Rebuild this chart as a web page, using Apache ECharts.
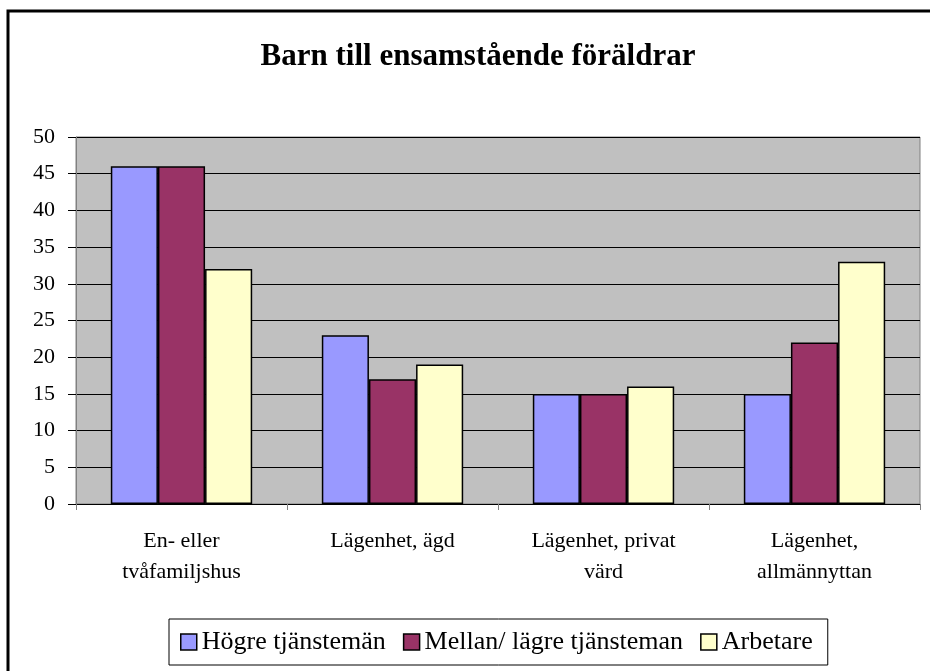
<!DOCTYPE html>
<html>
<head>
<meta charset="utf-8">
<script src="https://cdn.jsdelivr.net/npm/echarts@6/dist/echarts.min.js"></script>
<style>html,body{margin:0;padding:0;background:#fff;}#c{width:930px;height:671px;}</style>
</head>
<body>
<div id="c"></div>
<script>
const categories = ['En- eller\ntvåfamiljshus', 'Lägenhet, ägd', 'Lägenhet, privat\nvärd', 'Lägenhet,\nallmännyttan'];
const seriesNames = ['Högre tjänstemän', 'Mellan/ lägre tjänsteman', 'Arbetare'];
const hogre = [46, 23, 15, 15];
const mellan = [46, 17, 15, 22];
const arbetare = [32, 19, 16, 33];
const colors = ['#9999FF', '#993366', '#FFFFCC'];
const FONT = "'Liberation Serif', 'Times New Roman', serif";

const chart = echarts.init(document.getElementById('c'), null, {renderer: 'canvas'});
const values = [hogre, mellan, arbetare];
chart.setOption({
  animation: false,
  backgroundColor: '#fff',
  title: {
    text: 'Barn till ensamstående föräldrar',
    left: 473, top: 36, textAlign: 'center',
    textStyle: {fontFamily: FONT, fontWeight: 'bold', fontSize: 31, color: '#000'}
  },
  graphic: [{
    type: 'rect', shape: {x: 8, y: 11, width: 940, height: 700},
    style: {fill: 'none', stroke: '#000', lineWidth: 3}, silent: true
  }],
  grid: {left: 76, right: 10, top: 137, bottom: 167, show: true, backgroundColor: '#C0C0C0', borderColor: '#808080', borderWidth: 1},
  legend: {
    data: seriesNames,
    left: 169, top: 619,
    orient: 'horizontal',
    itemWidth: 16, itemHeight: 16, itemGap: 17,
    padding: [10, 15, 10, 11],
    borderColor: '#000', borderWidth: 1,
    icon: 'rect',
    itemStyle: {borderColor: '#000', borderWidth: 1.5},
    textStyle: {fontFamily: FONT, fontSize: 26, color: '#000'}
  },
  xAxis: {
    type: 'category',
    data: categories,
    axisLine: {show: true, lineStyle: {color: '#000', width: 1}},
    axisTick: {show: true, length: 6, lineStyle: {color: '#808080'}},
    axisLabel: {interval: 0, fontFamily: FONT, fontSize: 22, lineHeight: 31, color: '#000', margin: 22}
  },
  yAxis: {
    type: 'value', min: 0, max: 50, interval: 5,
    axisLine: {show: true, lineStyle: {color: '#808080'}},
    axisTick: {show: true, length: 8, lineStyle: {color: '#000'}},
    axisLabel: {fontFamily: FONT, fontSize: 22, color: '#000', margin: 21},
    splitLine: {show: true, lineStyle: {color: '#000', width: 1}}
  },
  series: seriesNames.map((n, i) => ({
    name: n, type: 'bar', data: values[i],
    barGap: '0%', barCategoryGap: '33%',
    itemStyle: {color: colors[i], borderColor: '#000', borderWidth: 1.5}
  }))
});
</script>
</body>
</html>
